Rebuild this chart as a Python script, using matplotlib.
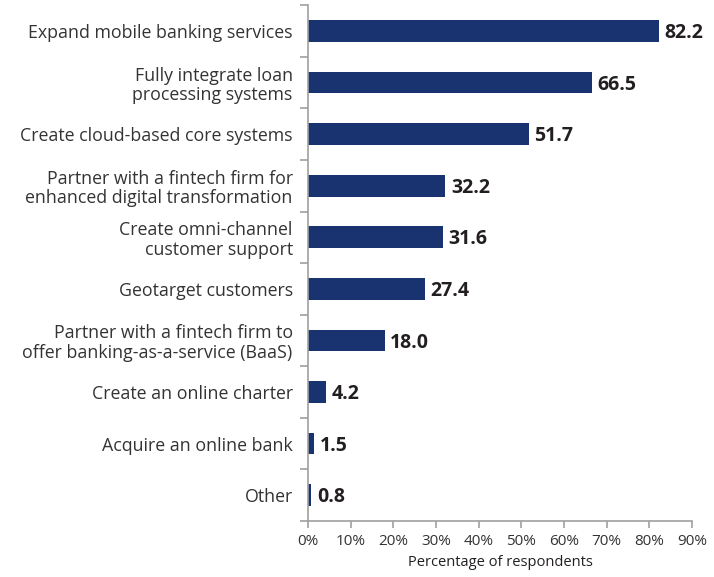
import matplotlib.pyplot as plt
import numpy as np
from matplotlib.ticker import FixedLocator, PercentFormatter

plt.rcParams['font.family'] = ['Open Sans', 'DejaVu Sans']

categories = [
    'Expand mobile banking services',
    'Fully integrate loan\nprocessing systems',
    'Create cloud-based core systems',
    'Partner with a fintech firm for\nenhanced digital transformation',
    'Create omni-channel\ncustomer support',
    'Geotarget customers',
    'Partner with a fintech firm to\noffer banking-as-a-service (BaaS)',
    'Create an online charter',
    'Acquire an online bank',
    'Other',
]
values = [82.2, 66.5, 51.7, 32.2, 31.6, 27.4, 18.0, 4.2, 1.5, 0.8]

bar_color = '#18336f'
axis_gray = '#a0a0a0'
text_color = '#231f20'

fig = plt.figure(figsize=(7.14, 5.77), dpi=100)
ax = fig.add_axes([0.4314, 0.097, 0.9692 - 0.4314, 0.894])

y = np.arange(len(categories))
ax.barh(y, values, height=0.42, color=bar_color)
for yi, v in zip(y, values):
    ax.text(v + 1.3, yi + 0.04, f'{v:.1f}', va='center', ha='left',
            fontsize=14, fontweight='bold', color=text_color)

ax.set_xlim(0, 90)
ax.set_ylim(len(categories) - 0.5, -0.5)
ax.set_xticks(np.arange(0, 91, 10))
ax.xaxis.set_major_formatter(PercentFormatter(decimals=0))
ax.set_yticks(y)
ax.set_yticklabels(categories, fontsize=12.8, color='#333333', linespacing=1.1)
ax.yaxis.set_minor_locator(FixedLocator(np.arange(-0.5, len(categories), 1)))
ax.tick_params(axis='y', which='major', length=0, pad=11)
ax.tick_params(axis='y', which='minor', length=6, color=axis_gray, width=1.2)
ax.tick_params(axis='x', length=5, color=axis_gray, width=1.2,
               labelsize=11, labelcolor='#333333', pad=4)
ax.set_xlabel('Percentage of respondents', fontsize=10.5, color=text_color, labelpad=5)

for s in ['top', 'right']:
    ax.spines[s].set_visible(False)
for s in ['left', 'bottom']:
    ax.spines[s].set_color(axis_gray)
    ax.spines[s].set_linewidth(1.2)

fig.savefig('out.png', dpi=100)
